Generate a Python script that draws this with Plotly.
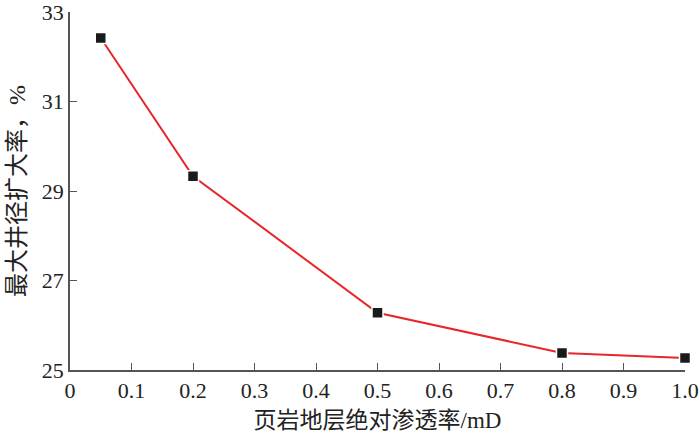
import plotly.graph_objects as go

permeability = [0.05, 0.2, 0.5, 0.8, 1.0]
expansion_rate = [32.42, 29.33, 26.28, 25.38, 25.27]
x_tick_vals = [0, 0.1, 0.2, 0.3, 0.4, 0.5, 0.6, 0.7, 0.8, 0.9, 1.0]
x_tick_text = ["0", "0.1", "0.2", "0.3", "0.4", "0.5", "0.6", "0.7", "0.8", "0.9", "1.0"]
y_tick_vals = [25, 27, 29, 31, 33]

fig = go.Figure()
fig.add_trace(go.Scatter(
    x=permeability, y=expansion_rate, mode="lines+markers",
    line=dict(color="#e8262a", width=2),
    marker=dict(symbol="square", size=11, color="#1a1a1a",
                line=dict(color="#ffffff", width=1.5)),
    showlegend=False, cliponaxis=False,
))

axis_font = dict(family="Liberation Serif, Times New Roman, serif", size=22, color="#222")
xtitle_font = dict(family="Liberation Serif, Noto Sans CJK SC, serif", size=23, color="#222")
ytitle_font = dict(family="Liberation Serif, Noto Sans CJK SC, serif", size=24, color="#222")

fig.update_layout(
    width=700, height=434,
    margin=dict(l=70, r=15, t=12, b=64, autoexpand=False),
    paper_bgcolor="white", plot_bgcolor="white",
    xaxis=dict(
        range=[0, 1.0], tickvals=x_tick_vals, ticktext=x_tick_text,
        ticks="inside", ticklen=7, tickwidth=1.2, tickcolor="#555",
        showline=True, linecolor="#555", linewidth=1.5, mirror=False,
        showgrid=False, zeroline=False, tickfont=axis_font, automargin=False,
        ticklabeloverflow="allow",
        title=dict(text="\u00a0" * 5 + "页岩地层绝对渗透率/mD", font=xtitle_font, standoff=10),
    ),
    yaxis=dict(
        range=[25, 33], tickvals=y_tick_vals,
        ticks="inside", ticklen=7, tickwidth=1.2, tickcolor="#555",
        showline=True, linecolor="#555", linewidth=1.5, mirror=False,
        showgrid=False, zeroline=False, tickfont=axis_font, automargin=False,
        ticklabeloverflow="allow",
        title=dict(text="最大井径扩大率，%", font=ytitle_font, standoff=9),
    ),
)

fig.write_html("out.html", config={"displayModeBar": False},
               post_script="document.body.style.margin='0';document.body.style.overflow='hidden';")
